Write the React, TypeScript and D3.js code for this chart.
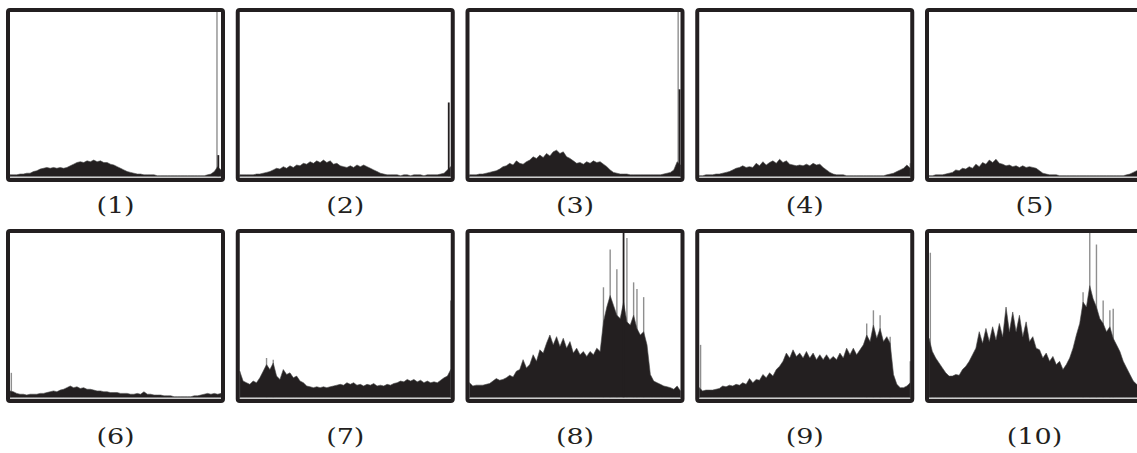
import React, { useRef, useEffect } from 'react';
import * as d3 from 'd3';

// histogram heights, % of panel height, 64 bins per panel
const hist1 = [1, 1, 1, 1.5, 1.5, 2, 2, 3, 3.5, 4.5, 5, 5.5, 5, 5.5, 5, 5.5, 5, 5.5, 6.5, 7.5, 8.5, 9, 8.5, 9.5, 9, 10, 9, 9.5, 8.5, 8.5, 7.5, 7, 6, 5, 4, 3, 2.5, 2, 1.5, 1.5, 1, 1, 1, 1, 0.5, 0.5, 0.5, 0.5, 0.5, 0.5, 0.5, 0.5, 0.5, 0.5, 0.5, 0.5, 0.5, 0.5, 0.5, 1, 1.5, 3, 6, 4];
const hist2 = [1, 1, 1, 1, 1, 1.5, 1.5, 2, 2.5, 3, 4, 5, 4.5, 6, 5, 6.5, 5.5, 7, 6.5, 8, 7.5, 9, 8, 9.5, 8.5, 10, 8.5, 9.5, 7.5, 8, 6.5, 6, 5.5, 6.5, 5.5, 7, 6, 7, 6, 5, 4, 3, 2, 1.5, 1, 1, 1, 1, 0.5, 1, 1, 0.5, 1, 1, 1, 0.5, 1, 1, 1, 1, 1.5, 2, 4, 6];
const hist3 = [1, 1, 1, 1.5, 1.5, 2, 2.5, 3, 3.5, 4.5, 6, 6.5, 8, 7, 9.5, 8, 7.5, 9, 10, 12, 11, 13, 11.5, 14, 12.5, 15, 16, 14, 15, 12, 11, 9.5, 8, 8.5, 7.5, 9, 8, 9.5, 8.5, 9, 7.5, 6, 4, 2.5, 2, 1.5, 1.5, 1.5, 1, 1, 1, 1, 1, 1, 1, 1, 1, 1, 1.5, 2, 2.5, 4, 9, 7];
const hist4 = [0.5, 0.5, 1, 1, 1, 1.5, 1.5, 2, 2.5, 3, 4, 5, 5.5, 6.5, 5.5, 6, 5.5, 8, 6.5, 9, 7, 8.5, 9.5, 8, 10.5, 8.5, 9.5, 7.5, 7, 6.5, 7, 6.5, 7.5, 6.5, 8, 7, 7.5, 5.5, 4, 2.5, 1.5, 1, 1, 1, 0.5, 0.5, 0.5, 0.5, 0.5, 0.5, 0.5, 0.5, 0.5, 0.5, 0.5, 0.5, 1, 1.5, 2, 3, 4, 5, 7, 5];
const hist5 = [0.5, 0.5, 1, 1, 1, 1.5, 2, 2.5, 4, 3.5, 5, 4.5, 6, 5, 7.5, 6, 8.5, 7.5, 10, 8.5, 10.5, 8, 7.5, 6.5, 7, 6, 6.5, 5.5, 6.5, 5.5, 6, 5.5, 5, 3.5, 2, 1.5, 1, 1, 1, 0.5, 0.5, 0.5, 0.5, 0.5, 0.5, 0.5, 0.5, 0.5, 0.5, 0.5, 0.5, 0.5, 0.5, 0.5, 0.5, 0.5, 0.5, 0.5, 0.5, 1, 1.5, 2.5, 3.5, 4];
const hist6 = [4, 3.5, 2.5, 2, 2, 1.5, 2, 2, 2, 2.5, 2.5, 3, 3.5, 4, 3.5, 4.5, 5, 6, 7, 6, 6.5, 5.5, 6, 5, 5, 4.5, 4, 4, 3.5, 3.5, 3, 3, 3, 2.5, 2.5, 2.5, 2, 2, 2.5, 2, 3.5, 2, 2, 1.5, 1.5, 1.5, 1, 1, 1, 0.5, 0.5, 0.5, 0.5, 0.5, 0.5, 1, 1, 1.5, 2, 2.5, 2, 2.5, 2, 2.5];
const hist7 = [16, 10, 9, 8, 10, 9, 12, 16, 20, 17, 21, 13, 11, 17, 14, 15, 12, 13, 10, 9, 7, 6.5, 6, 6.5, 6, 6.5, 6, 6.5, 7, 7.5, 8, 7.5, 9, 8, 9, 7.5, 8, 7, 8, 7.5, 8.5, 7, 7.5, 7, 8, 7.5, 8.5, 9, 10, 9.5, 11, 10, 11, 9.5, 10.5, 9, 10, 9, 9.5, 9, 10.5, 12, 13, 17];
const hist8 = [9, 7, 7.5, 7.5, 7.5, 8, 8.5, 10, 11.5, 10.5, 11, 12, 13.5, 12.5, 16, 17, 23, 18, 20, 26, 22, 29, 27, 33, 38, 32, 37, 31, 36, 30, 34, 27, 30, 26, 28, 25, 28, 26, 30, 28, 46, 55, 62, 56, 50, 48, 58, 46, 44, 50, 42, 38, 40, 32, 14, 10, 9, 8, 7, 6.5, 6, 5, 7, 4];
const hist9 = [6, 4, 4.5, 4.5, 4.5, 5, 5.5, 7, 6.5, 7.5, 7, 8, 7.5, 9, 8, 11.5, 9, 11, 10.5, 14, 12, 15, 13, 17, 19, 22, 27, 24, 29, 25, 27, 24, 28, 24, 27, 23, 26, 23, 26, 23, 25, 23, 27, 24, 30, 26, 30, 26, 29, 32, 38, 34, 44, 36, 42, 34, 37, 33, 14, 8, 6, 6, 7, 9];
const hist10 = [36, 28, 24, 21, 18, 15, 13, 13, 14, 13.5, 17, 19, 22, 26, 30, 40, 33, 42, 34, 43, 35, 45, 37, 55, 40, 52, 40, 50, 37, 46, 34, 37, 30, 29, 24, 27, 22, 25, 20, 22, 17, 20, 24, 30, 38, 45, 58, 55, 68, 60, 55, 48, 45, 40, 43, 36, 32, 28, 22, 18, 14, 10, 8, 8];

// thin grey spikes standing above the black fill: [bin, height]
const spikes1 = [[61.8, 100]];
const spikes2 = [[63.3, 100]];
const spikes3 = [[62.3, 100]];
const spikes4 = [[63, 8]];
const spikes5 = [];
const spikes6 = [[0.4, 15]];
const spikes7 = [[8, 24], [10, 23], [63, 59]];
const spikes8 = [[40, 67], [42, 90], [44, 78], [47, 97], [49, 70], [50, 66], [52, 61]];
const spikes9 = [[0.4, 32], [50, 45], [52, 53], [54, 50], [57, 37], [63, 22]];
const spikes10 = [[0.4, 88], [46, 64], [48, 100], [50, 93], [52, 59], [54, 53], [55, 54]];

// narrow black spikes: [bin, height]
const bars1 = [[62.2, 13]];
const bars2 = [[62.4, 45]];
const bars3 = [[62.7, 53]];
const bars8 = [[46, 100]];

const labels = ['(1)', '(2)', '(3)', '(4)', '(5)', '(6)', '(7)', '(8)', '(9)', '(10)'];
const histograms = [hist1, hist2, hist3, hist4, hist5, hist6, hist7, hist8, hist9, hist10];
const spikeSets = [spikes1, spikes2, spikes3, spikes4, spikes5, spikes6, spikes7, spikes8, spikes9, spikes10];
const barSets = [bars1, bars2, bars3, [], [], [], [], bars8, [], []];

const App = () => {
  const svgRef = useRef(null);
  const width = 1137;
  const height = 453;
  const panelW = 219;
  const panelH = 174;
  const colStep = 229.75;
  const rowTops = [8, 229];
  const labelY = [213, 444];
  const dark = '#231f20';

  useEffect(() => {
    const svg = d3.select(svgRef.current);
    svg.selectAll('*').remove();

    histograms.forEach((data, k) => {
      const row = Math.floor(k / 5);
      const col = k % 5;
      const x0 = 6 + col * colStep;
      const y0 = rowTops[row];

      const x = d3.scaleLinear()
        .domain([0, data.length - 1])
        .range([x0 + 4, x0 + panelW - 4]);
      const y = d3.scaleLinear()
        .domain([0, 100])
        .range([y0 + panelH - 5.5, y0 + 4]);

      const g = svg.append('g').attr('class', 'panel');

      // grey spikes behind the fill
      g.selectAll('line.spike')
        .data(spikeSets[k])
        .enter()
        .append('line')
          .attr('class', 'spike')
          .attr('x1', d => x(d[0]))
          .attr('x2', d => x(d[0]))
          .attr('y1', y(0))
          .attr('y2', d => y(d[1]))
          .attr('stroke', '#8f8f8f')
          .attr('stroke-width', 1.4);

      const area = d3.area()
        .x((d, i) => x(i))
        .y0(y(0))
        .y1(d => y(d))
        .curve(d3.curveLinear);

      g.append('path')
        .attr('d', area(data))
        .attr('fill', dark)
        .attr('stroke', '#4a4a4a')
        .attr('stroke-width', 0.6);

      g.selectAll('line.bar')
        .data(barSets[k])
        .enter()
        .append('line')
          .attr('class', 'bar')
          .attr('x1', d => x(d[0]))
          .attr('x2', d => x(d[0]))
          .attr('y1', y(0))
          .attr('y2', d => y(d[1]))
          .attr('stroke', dark)
          .attr('stroke-width', 1.8);

      // light baseline just above the frame
      g.append('line')
        .attr('x1', x0 + 4)
        .attr('x2', x0 + panelW - 4)
        .attr('y1', y(0) + 0.5)
        .attr('y2', y(0) + 0.5)
        .attr('stroke', '#9a9a9a')
        .attr('stroke-width', 1);

      g.append('rect')
        .attr('x', x0 + 2)
        .attr('y', y0 + 2)
        .attr('width', panelW - 4)
        .attr('height', panelH - 4)
        .attr('rx', 2)
        .attr('fill', 'none')
        .attr('stroke', dark)
        .attr('stroke-width', 4);

      g.append('text')
        .attr('transform', `translate(${x0 + panelW / 2},${labelY[row]}) scale(1.2,1)`)
        .attr('text-anchor', 'middle')
        .attr('font-family', '"DejaVu Serif", serif')
        .attr('font-size', 22.5)
        .attr('fill', dark)
        .text(labels[k]);
    });
  }, []);

  return (
    <svg
      ref={svgRef}
      width={width}
      height={height}
      style={{ position: 'absolute', left: 0, top: 0, background: '#fff' }}
    />
  );
};

export default App;
